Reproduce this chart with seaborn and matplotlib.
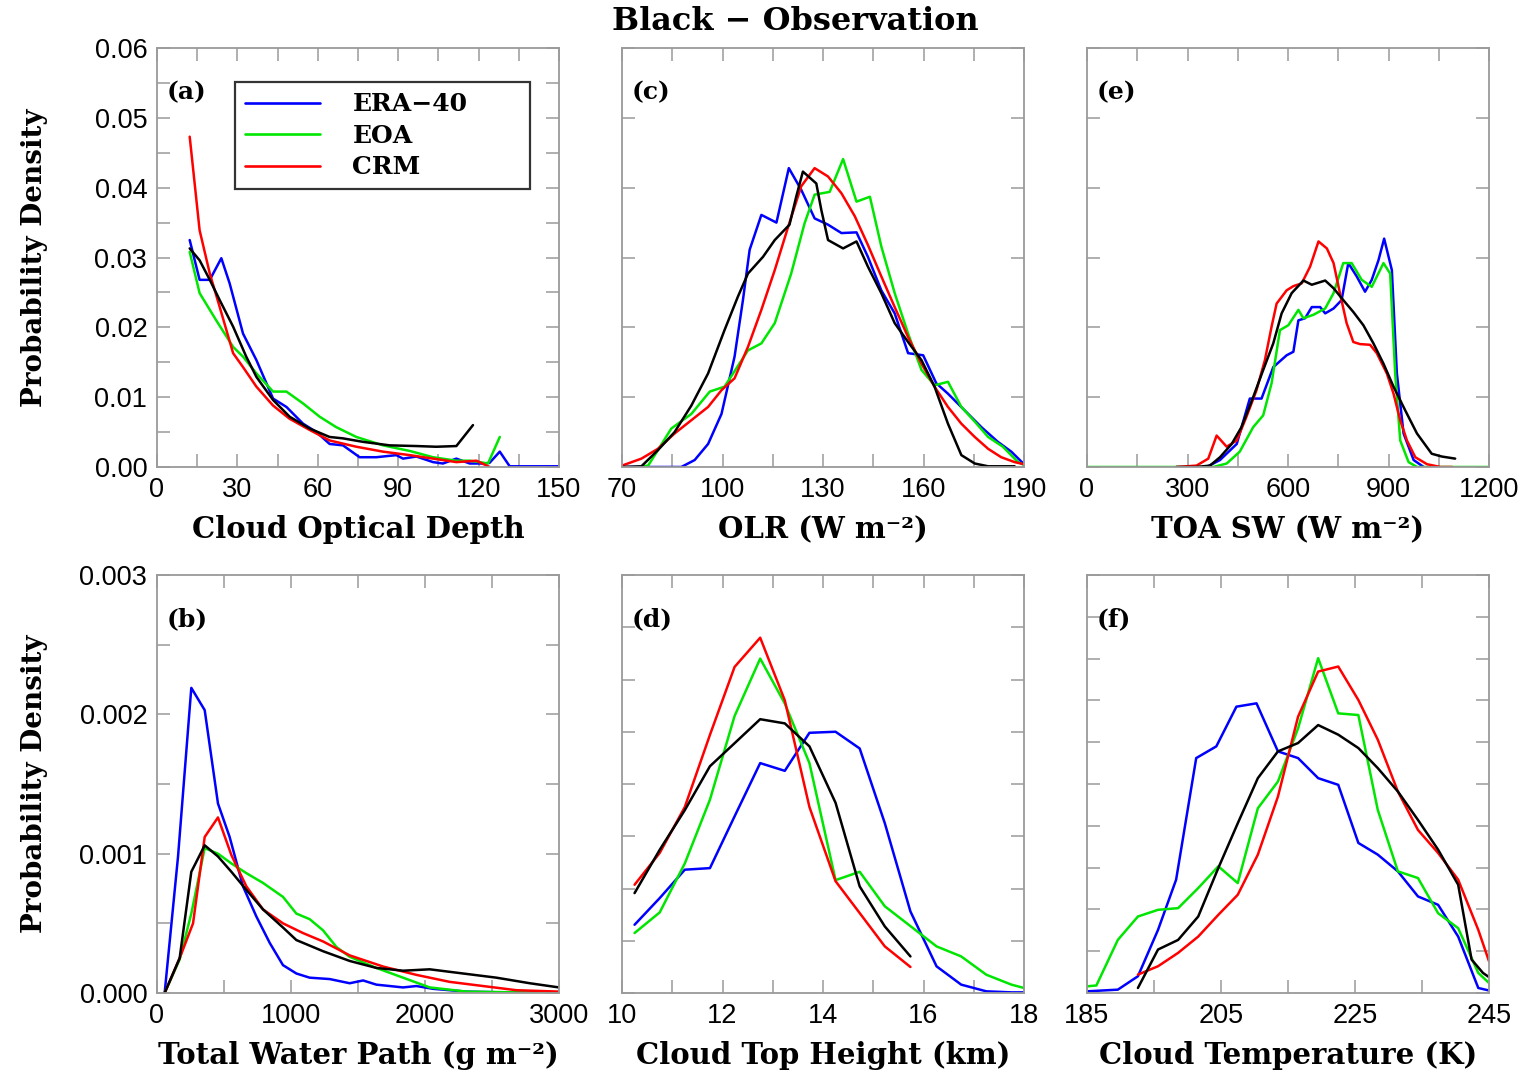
import numpy as np
import pandas as pd
import matplotlib
matplotlib.use("Agg")
import matplotlib.pyplot as plt
from matplotlib.lines import Line2D
from matplotlib.ticker import FixedLocator, FormatStrFormatter, NullFormatter
import seaborn as sns

# ---------------- data ----------------
series_names = ["ERA-40", "EOA", "CRM", "Observation"]
series_colors = ["#0000ff", "#00e600", "#ff0000", "#000000"]

# (a) Cloud Optical Depth
a_era_x = [12.2, 15.9, 19.7, 24.0, 27.1, 32.1, 37.1, 43.3, 48.3, 54.5, 59.5, 64.4, 69.4, 75.6, 81.8, 89.3, 91.8, 96.8, 103.0, 106.7, 111.7, 116.7, 121.6, 124.1, 127.9, 131.6, 150.0]
a_era_y = [0.0325, 0.0268, 0.0268, 0.0299, 0.0263, 0.0191, 0.0153, 0.0098, 0.0086, 0.0062, 0.0050, 0.0033, 0.0031, 0.0014, 0.0014, 0.0017, 0.0012, 0.0015, 0.0007, 0.0005, 0.0012, 0.0005, 0.0005, 0.0006, 0.0022, 0.0001, 0.0001]
a_eoa_x = [12.2, 15.9, 22.1, 28.4, 32.1, 37.1, 43.3, 48.3, 54.5, 60.7, 66.9, 74.4, 84.3, 94.3, 103.0, 111.7, 116.7, 120.4, 123.5, 127.9]
a_eoa_y = [0.0308, 0.0249, 0.0210, 0.0172, 0.0158, 0.0134, 0.0108, 0.0108, 0.0091, 0.0072, 0.0057, 0.0043, 0.0031, 0.0023, 0.0014, 0.0009, 0.0009, 0.0007, 0.0005, 0.0043]
a_crm_x = [12.2, 15.9, 19.7, 23.4, 28.4, 32.1, 37.1, 43.3, 49.5, 57.0, 64.4, 74.4, 84.3, 94.3, 103.0, 111.7, 119.2, 124.1]
a_crm_y = [0.0473, 0.0339, 0.0277, 0.0229, 0.0163, 0.0143, 0.0115, 0.0088, 0.0069, 0.0053, 0.0038, 0.0029, 0.0022, 0.0017, 0.0012, 0.0007, 0.0009, 0.0000]
a_obs_x = [12.2, 15.9, 19.7, 23.4, 28.4, 33.3, 37.1, 43.3, 49.5, 57.0, 64.4, 69.4, 76.9, 86.8, 96.8, 104.2, 111.7, 117.9]
a_obs_y = [0.0313, 0.0296, 0.0268, 0.0239, 0.0201, 0.0158, 0.0129, 0.0096, 0.0072, 0.0055, 0.0043, 0.0041, 0.0036, 0.0031, 0.0030, 0.0029, 0.0030, 0.0060]

# (c) OLR
c_era_x = [70.0, 87.7, 91.7, 95.7, 99.7, 103.6, 106.1, 108.1, 111.6, 116.1, 119.8, 123.5, 127.5, 131.5, 135.5, 140.0, 143.4, 147.4, 151.4, 155.4, 159.9, 163.8, 167.3, 172.3, 177.3, 182.2, 186.2, 190.0]
c_era_y = [0.0000, 0.0000, 0.0010, 0.0033, 0.0076, 0.0158, 0.0239, 0.0311, 0.0361, 0.0350, 0.0428, 0.0397, 0.0356, 0.0347, 0.0335, 0.0336, 0.0301, 0.0253, 0.0220, 0.0163, 0.0160, 0.0120, 0.0105, 0.0081, 0.0057, 0.0036, 0.0022, 0.0004]
c_eoa_x = [75.0, 77.8, 80.7, 84.7, 90.7, 96.2, 100.6, 107.6, 111.6, 115.6, 120.5, 124.5, 127.5, 132.0, 136.0, 140.0, 144.0, 147.4, 151.4, 155.4, 159.4, 163.3, 167.3, 171.3, 175.3, 179.3, 183.7, 188.2, 190.0]
c_eoa_y = [0.0000, 0.0002, 0.0024, 0.0055, 0.0076, 0.0108, 0.0115, 0.0167, 0.0177, 0.0206, 0.0277, 0.0349, 0.0390, 0.0394, 0.0441, 0.0380, 0.0387, 0.0316, 0.0249, 0.0191, 0.0139, 0.0117, 0.0122, 0.0086, 0.0065, 0.0043, 0.0029, 0.0007, 0.0003]
c_crm_x = [70.0, 75.8, 80.7, 85.7, 90.7, 95.7, 99.7, 103.6, 107.6, 111.6, 115.6, 119.6, 123.5, 127.5, 131.5, 135.5, 139.5, 143.4, 147.4, 151.4, 155.4, 159.4, 163.3, 167.3, 171.3, 175.3, 179.3, 183.2, 187.2, 190.0]
c_crm_y = [0.0002, 0.0012, 0.0026, 0.0048, 0.0067, 0.0086, 0.0110, 0.0127, 0.0172, 0.0225, 0.0282, 0.0344, 0.0402, 0.0428, 0.0416, 0.0392, 0.0359, 0.0318, 0.0273, 0.0229, 0.0186, 0.0148, 0.0115, 0.0086, 0.0062, 0.0043, 0.0026, 0.0014, 0.0007, 0.0004]
c_obs_x = [70.0, 75.8, 80.7, 85.7, 90.7, 95.7, 100.6, 104.6, 107.6, 112.1, 115.6, 120.0, 122.0, 124.0, 128.0, 129.5, 131.5, 136.0, 140.0, 143.4, 147.4, 151.4, 155.4, 159.4, 163.3, 167.3, 171.3, 175.3, 179.3, 187.2]
c_obs_y = [0.0000, 0.0001, 0.0024, 0.0050, 0.0088, 0.0134, 0.0196, 0.0244, 0.0277, 0.0301, 0.0325, 0.0347, 0.0387, 0.0423, 0.0406, 0.0368, 0.0325, 0.0313, 0.0323, 0.0287, 0.0249, 0.0206, 0.0179, 0.0153, 0.0115, 0.0062, 0.0017, 0.0005, 0.0001, 0.0001]

# (e) TOA SW
e_era_x = [357, 397, 447, 486, 521, 556, 596, 616, 631, 651, 671, 696, 711, 736, 760, 780, 805, 830, 850, 870, 887, 910, 925, 945, 975, 1005]
e_era_y = [0.0000, 0.0010, 0.0033, 0.0098, 0.0098, 0.0143, 0.0160, 0.0165, 0.0210, 0.0213, 0.0229, 0.0229, 0.0220, 0.0227, 0.0239, 0.0292, 0.0273, 0.0251, 0.0268, 0.0296, 0.0327, 0.0282, 0.0134, 0.0048, 0.0010, 0.0000]
e_eoa_x = [0, 377, 417, 456, 496, 526, 551, 576, 601, 631, 646, 676, 711, 736, 765, 790, 820, 850, 885, 905, 920, 935, 960, 985, 1200]
e_eoa_y = [0.0000, 0.0000, 0.0005, 0.0022, 0.0057, 0.0074, 0.0120, 0.0196, 0.0203, 0.0225, 0.0213, 0.0218, 0.0227, 0.0249, 0.0292, 0.0292, 0.0268, 0.0258, 0.0292, 0.0277, 0.0134, 0.0038, 0.0007, 0.0000, 0.0000]
e_crm_x = [267, 327, 362, 387, 417, 447, 476, 506, 531, 551, 566, 596, 616, 641, 666, 691, 716, 736, 755, 775, 795, 815, 845, 865, 895, 915, 935, 955, 980, 1015, 1055, 1090]
e_crm_y = [0.0000, 0.0002, 0.0012, 0.0045, 0.0029, 0.0038, 0.0072, 0.0110, 0.0153, 0.0201, 0.0234, 0.0253, 0.0259, 0.0263, 0.0287, 0.0323, 0.0313, 0.0292, 0.0249, 0.0206, 0.0179, 0.0176, 0.0175, 0.0163, 0.0134, 0.0105, 0.0067, 0.0038, 0.0014, 0.0004, 0.0000, 0.0000]
e_obs_x = [267, 327, 367, 397, 432, 461, 496, 526, 556, 581, 611, 646, 671, 711, 736, 765, 795, 825, 855, 885, 915, 950, 985, 1029, 1059, 1099]
e_obs_y = [0.0000, 0.0000, 0.0002, 0.0014, 0.0033, 0.0057, 0.0100, 0.0139, 0.0177, 0.0220, 0.0249, 0.0267, 0.0261, 0.0267, 0.0256, 0.0239, 0.0222, 0.0203, 0.0177, 0.0148, 0.0115, 0.0081, 0.0048, 0.0019, 0.0015, 0.0012]

# (b) Total Water Path
b_era_x = [57, 157, 256, 356, 455, 542, 642, 741, 841, 940, 1040, 1139, 1289, 1438, 1538, 1637, 1836, 1936, 2060, 2309, 2558, 3000]
b_era_y = [0.0, 0.00098, 0.00219, 0.00203, 0.00136, 0.00112, 0.000765, 0.00055, 0.00036, 0.00020, 0.00014, 0.00011, 0.00010, 0.00007, 0.00009, 0.00006, 0.00004, 0.00005, 0.00003, 0.00001, 0.000005, 0.0]
b_eoa_x = [57, 169, 256, 356, 455, 555, 667, 791, 940, 1040, 1139, 1239, 1339, 1438, 1637, 1836, 2035, 2309, 3000]
b_eoa_y = [0.0, 0.00024, 0.00057, 0.00104, 0.00100, 0.00093, 0.00086, 0.00079, 0.00069, 0.00057, 0.00053, 0.00045, 0.00033, 0.00026, 0.00018, 0.00011, 0.00004, 0.00001, 0.0]
b_crm_x = [57, 169, 269, 356, 455, 555, 667, 791, 940, 1090, 1239, 1438, 1687, 1936, 2184, 2433, 2682, 3000]
b_crm_y = [0.0, 0.00025, 0.00050, 0.00112, 0.00126, 0.00099, 0.000765, 0.00060, 0.00050, 0.00043, 0.00037, 0.00027, 0.00019, 0.00013, 0.00008, 0.00005, 0.00002, 0.00001]
b_obs_x = [57, 169, 256, 356, 455, 555, 667, 791, 940, 1040, 1239, 1438, 1637, 1836, 2035, 2284, 2533, 2782, 3000]
b_obs_y = [0.0, 0.00025, 0.00087, 0.00106, 0.00098, 0.00087, 0.00074, 0.00060, 0.00047, 0.00038, 0.00030, 0.00023, 0.00018, 0.00016, 0.00017, 0.00014, 0.00011, 0.00007, 0.00004]

# (d) Cloud Top Height
d_x_short = [10.25, 10.75, 11.25, 11.75, 12.24, 12.75, 13.24, 13.73, 14.25, 14.73, 15.23, 15.74]
d_x_long = [10.25, 10.75, 11.25, 11.75, 12.24, 12.75, 13.24, 13.73, 14.25, 14.73, 15.23, 15.74, 16.26, 16.75, 17.25, 17.75, 18.0]
d_era_y = [0.0653, 0.0908, 0.118, 0.1195, 0.169, 0.220, 0.2126, 0.249, 0.250, 0.234, 0.1625, 0.078, 0.0255, 0.008, 0.0016, 0.0006, 0.0006]
d_eoa_y = [0.0574, 0.0771, 0.124, 0.185, 0.265, 0.320, 0.277, 0.220, 0.108, 0.116, 0.083, 0.064, 0.0446, 0.035, 0.0175, 0.008, 0.0048]
d_crm_y = [0.1036, 0.134, 0.178, 0.247, 0.312, 0.340, 0.280, 0.178, 0.107, 0.0765, 0.0446, 0.0249]
d_obs_y = [0.0956, 0.137, 0.175, 0.217, 0.239, 0.262, 0.258, 0.236, 0.182, 0.102, 0.0637, 0.035]

# (f) Cloud Temperature
f_era_x = [185.0, 189.6, 192.6, 195.6, 198.3, 201.3, 204.3, 207.3, 210.3, 213.5, 216.5, 219.5, 222.5, 225.5, 228.4, 231.4, 234.4, 237.4, 240.4, 243.4, 245.0]
f_era_y = [0.0004, 0.0008, 0.0040, 0.0151, 0.0271, 0.0562, 0.0590, 0.0685, 0.0693, 0.0578, 0.0562, 0.0514, 0.0498, 0.0359, 0.0331, 0.0291, 0.0231, 0.0211, 0.0135, 0.0012, 0.0006]
f_eoa_x = [185.0, 186.4, 189.6, 192.6, 195.6, 198.6, 201.6, 204.6, 207.5, 210.5, 213.5, 216.5, 219.5, 222.5, 225.5, 228.4, 231.4, 234.4, 237.4, 240.4, 243.4, 245.0]
f_eoa_y = [0.0016, 0.0018, 0.0127, 0.0183, 0.0199, 0.0203, 0.0251, 0.0303, 0.0263, 0.0442, 0.0506, 0.0633, 0.0801, 0.0669, 0.0665, 0.0438, 0.0291, 0.0275, 0.0191, 0.0155, 0.0048, 0.0024]
f_crm_x = [192.6, 195.6, 198.6, 201.6, 204.6, 207.5, 210.5, 213.5, 216.5, 219.5, 222.5, 225.5, 228.4, 231.4, 234.4, 237.4, 240.4, 243.4, 245.0]
f_crm_y = [0.0044, 0.0064, 0.0096, 0.0135, 0.0187, 0.0235, 0.0331, 0.0470, 0.0661, 0.0769, 0.0781, 0.0701, 0.0606, 0.0482, 0.0390, 0.0335, 0.0271, 0.0151, 0.0076]
f_obs_x = [192.6, 195.6, 198.6, 201.6, 204.6, 207.5, 210.5, 213.5, 216.5, 219.5, 222.5, 225.5, 228.4, 231.4, 234.4, 237.4, 240.4, 242.4, 244.1, 245.0]
f_obs_y = [0.0012, 0.0104, 0.0127, 0.0183, 0.0299, 0.0406, 0.0514, 0.0578, 0.0598, 0.0641, 0.0618, 0.0586, 0.0538, 0.0482, 0.0414, 0.0343, 0.0259, 0.0080, 0.0048, 0.0038]

# tick values
a_xticks = [0, 30, 60, 90, 120, 150]
c_xticks = [70, 100, 130, 160, 190]
e_xticks = [0, 300, 600, 900, 1200]
b_xticks = [0, 1000, 2000, 3000]
d_xticks = [10, 12, 14, 16, 18]
f_xticks = [185, 205, 225, 245]
top_yticks = [0.00, 0.01, 0.02, 0.03, 0.04, 0.05, 0.06]
b_yticks = [0.000, 0.001, 0.002, 0.003]

x_labels = {
    "a": "Cloud Optical Depth",
    "c": "OLR (W m\u207b\u00b2)",
    "e": "TOA SW (W m\u207b\u00b2)",
    "b": "Total Water Path (g m\u207b\u00b2)",
    "d": "Cloud Top Height (km)",
    "f": "Cloud Temperature (K)",
}
y_label = "Probability Density"
title = "Black \u2212 Observation"
legend_labels = ["ERA\u221240", "EOA", "CRM"]

# ---------------- style ----------------
sns.set_theme(style="white")
LABEL_FONT = ["DejaVu Serif", "DejaVu Sans"]
TICK_FONT = "Liberation Sans"
plt.rcParams["font.family"] = ["Liberation Sans", "DejaVu Sans"]
plt.rcParams["text.color"] = "black"
plt.rcParams["axes.labelcolor"] = "black"
plt.rcParams["xtick.color"] = "black"
plt.rcParams["ytick.color"] = "black"
GRAY = "#9a9a9a"
palette = dict(zip(series_names, series_colors))


def frame(xs, ys):
    dfs = []
    for name, x, y in zip(series_names, xs, ys):
        dfs.append(pd.DataFrame({"x": x, "y": y, "dataset": name}))
    return pd.concat(dfs, ignore_index=True)


def halves(ticks):
    out = []
    for t0, t1 in zip(ticks[:-1], ticks[1:]):
        out.append((t0 + t1) / 2.0)
    return out


def even_ticks(lo, hi, n):
    step = (hi - lo) / n
    return [lo + i * step for i in range(n + 1)]


panels = {
    "a": frame([a_era_x, a_eoa_x, a_crm_x, a_obs_x], [a_era_y, a_eoa_y, a_crm_y, a_obs_y]),
    "c": frame([c_era_x, c_eoa_x, c_crm_x, c_obs_x], [c_era_y, c_eoa_y, c_crm_y, c_obs_y]),
    "e": frame([e_era_x, e_eoa_x, e_crm_x, e_obs_x], [e_era_y, e_eoa_y, e_crm_y, e_obs_y]),
    "b": frame([b_era_x, b_eoa_x, b_crm_x, b_obs_x], [b_era_y, b_eoa_y, b_crm_y, b_obs_y]),
    "d": frame([d_x_long, d_x_long, d_x_short, d_x_short], [d_era_y, d_eoa_y, d_crm_y, d_obs_y]),
    "f": frame([f_era_x, f_eoa_x, f_crm_x, f_obs_x], [f_era_y, f_eoa_y, f_crm_y, f_obs_y]),
}

# xticks, ylim, major yticks, minor yticks, show y labels, y fmt
settings = {
    "a": (a_xticks, (0, 0.06), top_yticks, halves(top_yticks), True, "%.2f"),
    "c": (c_xticks, (0, 0.06), top_yticks, [], False, None),
    "e": (e_xticks, (0, 0.06), top_yticks, [], False, None),
    "b": (b_xticks, (0, 0.003), b_yticks, halves(b_yticks), True, "%.3f"),
    "d": (d_xticks, (0, 0.4), even_ticks(0, 0.4, 8), [], False, None),
    "f": (f_xticks, (0, 0.1), even_ticks(0, 0.1, 10), [], False, None),
}

W, H = 1532, 1074
fig = plt.figure(figsize=(W / 100, H / 100), dpi=100)

col_left = [157, 622, 1087]
row_top = [48, 575]
row_bot = [467, 993]
axw = 402
layout = {"a": (0, 0), "c": (1, 0), "e": (2, 0), "b": (0, 1), "d": (1, 1), "f": (2, 1)}

axes = {}
for key, (ci, ri) in layout.items():
    l = col_left[ci] / W
    b = 1 - row_bot[ri] / H
    h = (row_bot[ri] - row_top[ri]) / H
    ax = fig.add_axes([l, b, axw / W, h])
    axes[key] = ax
    df = panels[key]
    sns.lineplot(data=df, x="x", y="y", hue="dataset", hue_order=series_names,
                 palette=palette, estimator=None, sort=False, legend=False,
                 linewidth=1.8, ax=ax)
    xt, ylim, yt, ytm, showy, fmt = settings[key]
    ax.set_xlim(xt[0], xt[-1])
    ax.set_ylim(*ylim)
    ax.xaxis.set_major_locator(FixedLocator(xt))
    ax.xaxis.set_minor_locator(FixedLocator(halves(xt)))
    ax.yaxis.set_major_locator(FixedLocator(yt))
    ax.yaxis.set_minor_locator(FixedLocator(ytm))
    ax.tick_params(which="both", direction="in", length=9.5, width=1.1, color=GRAY,
                   top=True, right=True, bottom=True, left=True,
                   labelsize=19.5, labelcolor="black", pad=7)
    for lab in ax.get_xticklabels() + ax.get_yticklabels():
        lab.set_fontfamily(TICK_FONT)
    if showy:
        ax.yaxis.set_major_formatter(FormatStrFormatter(fmt))
        ax.set_ylabel(y_label, fontsize=20, fontweight="bold", family=LABEL_FONT, color="black")
        ax.yaxis.set_label_coords(-0.272, 0.5)
    else:
        ax.yaxis.set_major_formatter(NullFormatter())
        ax.set_ylabel("")
    ax.set_xlabel(x_labels[key], fontsize=21, fontweight="bold", family=LABEL_FONT,
                  labelpad=9, color="black")
    for sp in ax.spines.values():
        sp.set_color(GRAY)
        sp.set_linewidth(1.3)
    ax.text(0.025, 0.895, f"({key})", transform=ax.transAxes, fontsize=18,
            fontweight="bold", family=LABEL_FONT, ha="left", va="center", color="black")

# legend in panel (a)
handles = [Line2D([0], [0], color=c, lw=1.9) for c in series_colors[:3]]
leg = axes["a"].legend(handles, legend_labels, loc="upper left",
                       bbox_to_anchor=(0.194, 0.918, 0.734, 0.0), mode="expand",
                       frameon=True, fancybox=False, edgecolor="black",
                       prop={"family": LABEL_FONT, "weight": "bold", "size": 18},
                       handlelength=3.0, handletextpad=1.3, labelspacing=0.3,
                       borderpad=0.4, borderaxespad=0.0, labelcolor="black")
leg.get_frame().set_linewidth(1.6)

fig.text(795 / W, 1 - 22 / H, title, ha="center", va="center", fontsize=23,
         fontweight="bold", family=LABEL_FONT, color="black")

fig.savefig("out.png", dpi=100, facecolor="white")
